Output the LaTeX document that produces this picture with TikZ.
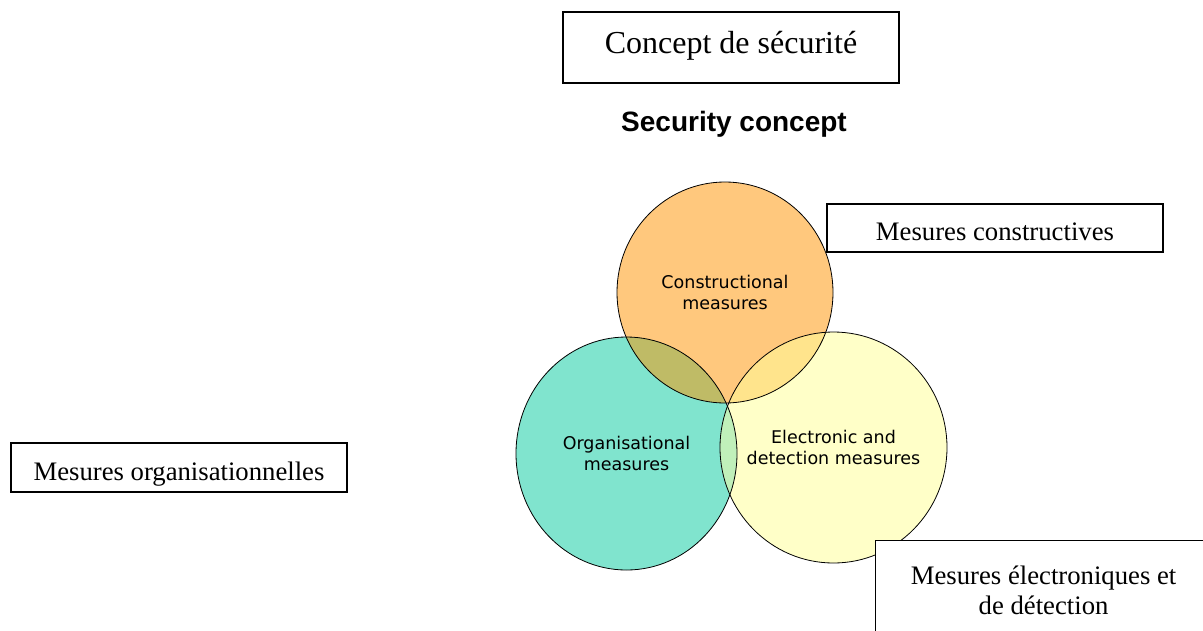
\documentclass[tikz,border=0pt]{standalone}
\usepackage{fontspec}
\setmainfont{Liberation Serif}
\newfontfamily\headfont{Liberation Sans}
\newfontfamily\vennfont{DejaVu Sans}
\usetikzlibrary{positioning}

\definecolor{consorange}{RGB}{255,200,125}
\definecolor{orgteal}{RGB}{128,228,206}
\definecolor{elecyellow}{RGB}{255,255,200}
\definecolor{consorg}{RGB}{191,187,102}
\definecolor{conselec}{RGB}{255,228,140}
\definecolor{orgelec}{RGB}{192,240,186}

\tikzset{
  frbox/.style={draw, fill=white, line width=1.2pt, minimum width=336pt, inner sep=0pt,
    font=\fontsize{26.7}{30}\selectfont},
  vlbl/.style={align=center, inner sep=0pt, font=\vennfont\fontsize{17.5}{21}\selectfont},
}

\def\conspath{(consC) ellipse [x radius=108, y radius=110.5]}
\def\orgpath{(orgC) ellipse [x radius=110.5, y radius=116.5]}
\def\elecpath{(elecC) ellipse [x radius=113.5, y radius=115.5]}

\begin{document}
\begin{tikzpicture}[x=1pt,y=-1pt]
 \useasboundingbox (0,0) rectangle (1203,630);
 \coordinate (consC) at (725,292.5);
 \coordinate (orgC) at (626.5,453.5);
 \coordinate (elecC) at (833.5,447.5);
 % the three sets
 \fill[consorange] \conspath;
 \fill[orgteal] \orgpath;
 \fill[elecyellow] \elecpath;
 \begin{scope}
  \clip \conspath;
  \fill[consorg] \orgpath;
  \fill[conselec] \elecpath;
 \end{scope}
 \begin{scope}
  \clip \orgpath;
  \fill[orgelec] \elecpath;
 \end{scope}
 \draw[line width=0.8pt] \conspath;
 \draw[line width=0.8pt] \orgpath;
 \draw[line width=0.8pt] \elecpath;
 \node[vlbl] (cons) at (consC) {Constructional\\measures};
 \node[vlbl] (org) at (orgC) {Organisational\\measures};
 \node[vlbl] (elec) at (elecC) {Electronic and\\detection measures};
 % french labels
 \node[frbox, minimum height=71pt, text height=22pt, text depth=11pt,
   font=\fontsize{32}{36}\selectfont] (concept) at (731,47.5) {Concept de sécurité};
 \node[below=27pt of concept, xshift=3pt, inner sep=0pt,
   font=\headfont\bfseries\fontsize{28}{32}\selectfont] (secconcept) {Security concept};
 \node[frbox, minimum height=49pt, text height=25pt, text depth=0pt] (orgbox) at (179,467.5) {Mesures organisationnelles};
 \node[frbox, minimum height=48pt, text height=24pt, text depth=0pt] (consbox) at (995,228) {Mesures constructives};
 \node[frbox, minimum height=100pt, align=center, anchor=north west] (elecbox) at (875,540) {Mesures électroniques et\\de détection};
\end{tikzpicture}
\end{document}
